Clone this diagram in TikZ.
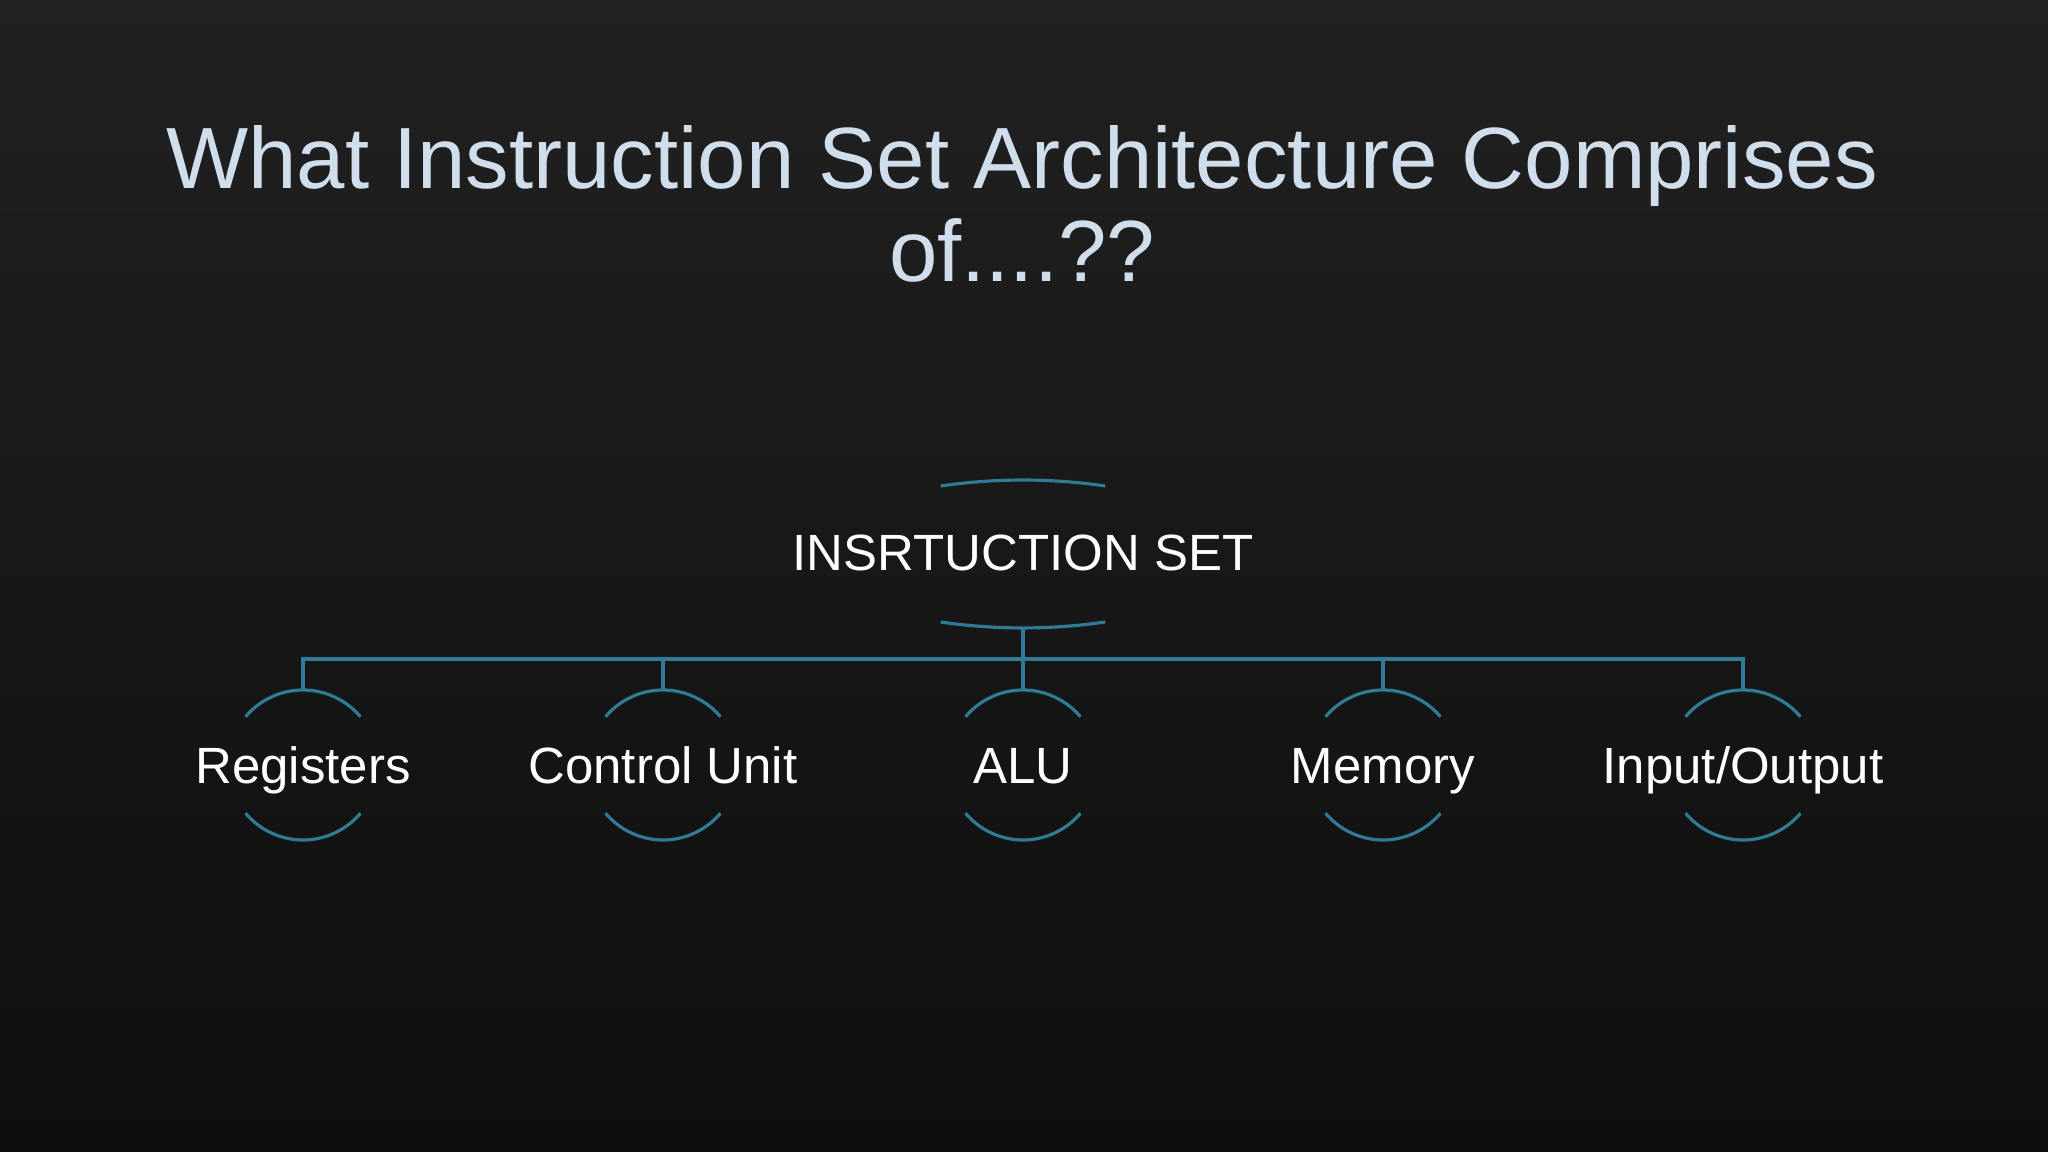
\documentclass[tikz,border=0pt]{standalone}
\usepackage{fontspec}
\setmainfont{Liberation Sans}
\usetikzlibrary{positioning}
\definecolor{bgtop}{RGB}{33,33,33}
\definecolor{bgbottom}{RGB}{14,14,14}
\definecolor{titlecol}{RGB}{208,222,236}
\definecolor{linkcol}{RGB}{48,124,150}

\begin{document}
\begin{tikzpicture}[
  part/.style={text=white, font=\fontsize{14.5}{17}\selectfont, inner sep=0pt, text height=10.4pt, text depth=0pt},
  link/.style={draw=linkcol, line width=0.9pt},
  on grid, node distance=3.6cm
]
\shade[top color=bgtop, bottom color=bgbottom] (0,0) rectangle (20.48,11.52);
\useasboundingbox (0,0) rectangle (20.48,11.52);

\node[text=titlecol, align=center, anchor=base, font=\fontsize{24.75}{26.7}\selectfont] (title) at (10.22,8.70) {What Instruction Set Architecture Comprises\\of....??};

\node[part] (reg) at (3.03,3.87) {Registers};
\node[part, right=of reg] (cu) {Control Unit};
\node[part, right=of cu] (alu) {ALU};
\node[part, right=of alu] (mem) {Memory};
\node[part, right=of mem] (io) {Input/Output};
\node[part, above=2.13cm of alu] (isa) {INSRTUCTION SET};

% arcs round the top node
\draw[link] ([shift={(-0.823,0.66)}]isa.center) arc[start angle=98.3, end angle=81.7, radius=5.7];
\draw[link] ([shift={(-0.823,-0.70)}]isa.center) arc[start angle=261.7, end angle=278.3, radius=5.7];
\coordinate (isa-b) at ([yshift=-0.76cm]isa.center);

\foreach \n in {reg,cu,alu,mem,io} {
  \draw[link] (\n.center) ++(40:0.75) arc[start angle=40, end angle=140, radius=0.75];
  \draw[link] (\n.center) ++(220:0.75) arc[start angle=220, end angle=320, radius=0.75];
  \coordinate (\n-t) at ([yshift=0.75cm]\n.center);
  \draw[link] (isa-b) -- ++(0,-0.31) -| (\n-t);
}
\end{tikzpicture}
\end{document}
